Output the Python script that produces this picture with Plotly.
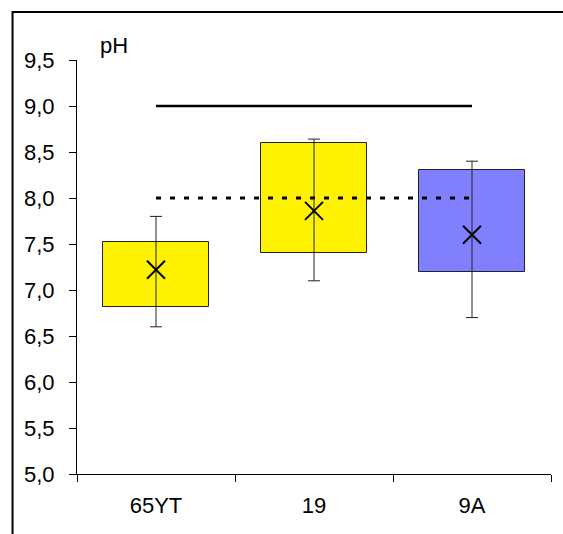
import plotly.graph_objects as go

categories = ["65YT", "19", "9A"]
box_low = [6.82, 7.40, 7.20]
box_high = [7.52, 8.60, 8.30]
means = [7.22, 7.86, 7.60]
whisker_low = [6.60, 7.10, 6.70]
whisker_high = [7.80, 8.64, 8.40]
bar_colors = ["#FFF200", "#FFF200", "#8080FF"]
upper_limit = 9.0
lower_limit = 8.0
y_ticks = [5.0, 5.5, 6.0, 6.5, 7.0, 7.5, 8.0, 8.5, 9.0, 9.5]

font = dict(family="Liberation Sans, Arial, sans-serif", size=22, color="black")

fig = go.Figure()
fig.add_trace(go.Bar(
    x=categories,
    y=[h - l for h, l in zip(box_high, box_low)],
    base=box_low,
    width=0.665,
    marker=dict(color=bar_colors, line=dict(color="#222222", width=1)),
    showlegend=False,
    hoverinfo="skip",
))
fig.add_trace(go.Scatter(
    x=[categories[0], categories[-1]],
    y=[upper_limit, upper_limit],
    mode="lines",
    line=dict(color="black", width=2.5),
    showlegend=False,
))
fig.add_trace(go.Scatter(
    x=[categories[0], categories[-1]],
    y=[lower_limit, lower_limit],
    mode="lines",
    line=dict(color="black", width=3, dash="5px,9px"),
    showlegend=False,
))
fig.add_trace(go.Scatter(
    x=categories,
    y=means,
    mode="markers",
    marker=dict(symbol="x-thin", size=18, line=dict(color="black", width=2)),
    error_y=dict(
        type="data",
        symmetric=False,
        array=[h - m for h, m in zip(whisker_high, means)],
        arrayminus=[m - l for m, l in zip(means, whisker_low)],
        color="#222222",
        thickness=1,
        width=6,
    ),
    showlegend=False,
))

fig.update_layout(
    width=563,
    height=534,
    margin=dict(l=77, r=12, t=60, b=60),
    paper_bgcolor="white",
    plot_bgcolor="white",
    font=font,
    separators=", ",
    bargap=0,
    xaxis=dict(
        type="category",
        range=[-0.5, 2.5],
        showline=True,
        linecolor="black",
        linewidth=1,
        ticks="outside",
        tickson="boundaries",
        ticklen=7,
        tickcolor="black",
        showgrid=False,
        zeroline=False,
        ticklabelstandoff=12,
    ),
    yaxis=dict(
        range=[5.0, 9.5],
        tickvals=y_ticks,
        tickformat=".1f",
        showline=True,
        linecolor="black",
        linewidth=1,
        ticks="outside",
        ticklen=7,
        tickcolor="black",
        showgrid=False,
        zeroline=False,
        ticklabelstandoff=10,
    ),
    shapes=[dict(
        type="rect", xref="paper", yref="paper",
        x0=-0.136, x1=1.2, y0=-0.3, y1=1.116,
        line=dict(color="black", width=2),
        fillcolor="rgba(0,0,0,0)",
        layer="above",
    )],
    annotations=[dict(
        text="pH", xref="paper", yref="paper",
        x=0.078, y=1.036, showarrow=False,
        xanchor="center", yanchor="middle",
        font=font,
    )],
)

fig.write_html("out.html")
